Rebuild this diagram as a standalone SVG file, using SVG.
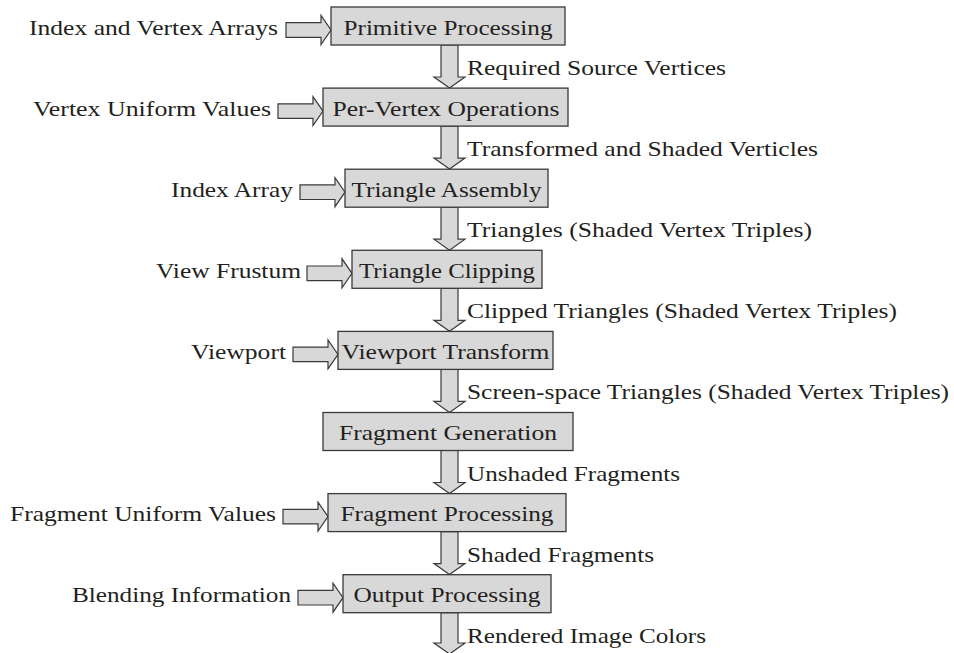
<svg xmlns="http://www.w3.org/2000/svg" xmlns:xlink="http://www.w3.org/1999/xlink" width="954" height="653" viewBox="0 0 954 653">
<style>
.box{fill:#d8d8d8;stroke:#3a3a3a;stroke-width:1.3}
.arr{fill:#d8d8d8;stroke:#3a3a3a;stroke-width:1.2;stroke-linejoin:miter}
text{font-family:"Liberation Serif","Times New Roman",serif;font-size:22px;fill:#231f20}
.c{text-anchor:middle}
</style>
<defs>
<path id="varr" d="M-8.5,0 V32 H-15.5 L0,43 L15.5,32 H8.5 V0 Z"/>
<path id="harr" d="M-45,-7.3 H-10 V-14.5 L0,0 L-10,14.5 V7.3 H-45 Z"/>
</defs>
<g id="connectors">
<use xlink:href="#varr" class="arr" x="449.5" y="45"/>
<use xlink:href="#varr" class="arr" x="449.5" y="126.1"/>
<use xlink:href="#varr" class="arr" x="449.5" y="207.2"/>
<use xlink:href="#varr" class="arr" x="449.5" y="288.3"/>
<use xlink:href="#varr" class="arr" x="449.5" y="369.4"/>
<use xlink:href="#varr" class="arr" x="449.5" y="450.5"/>
<use xlink:href="#varr" class="arr" x="449.5" y="531.6"/>
<path class="arr" d="M441,612.7 V643 H434 L449.5,654 L465,643 H458 V612.7 Z"/>
<use xlink:href="#harr" class="arr" x="331" y="30"/>
<use xlink:href="#harr" class="arr" x="323" y="111.1"/>
<use xlink:href="#harr" class="arr" x="345" y="192.2"/>
<use xlink:href="#harr" class="arr" x="352" y="273.3"/>
<use xlink:href="#harr" class="arr" x="338" y="354.4"/>
<use xlink:href="#harr" class="arr" x="328" y="516.6"/>
<use xlink:href="#harr" class="arr" x="343" y="597.7"/>
<text x="467" y="75" textLength="259" lengthAdjust="spacingAndGlyphs">Required Source Vertices</text>
<text x="467" y="156.1" textLength="351" lengthAdjust="spacingAndGlyphs">Transformed and Shaded Verticles</text>
<text x="467" y="237.2" textLength="345" lengthAdjust="spacingAndGlyphs">Triangles (Shaded Vertex Triples)</text>
<text x="467" y="318.3" textLength="430" lengthAdjust="spacingAndGlyphs">Clipped Triangles (Shaded Vertex Triples)</text>
<text x="467" y="399.4" textLength="482" lengthAdjust="spacingAndGlyphs">Screen-space Triangles (Shaded Vertex Triples)</text>
<text x="467" y="480.5" textLength="213" lengthAdjust="spacingAndGlyphs">Unshaded Fragments</text>
<text x="467" y="561.6" textLength="187" lengthAdjust="spacingAndGlyphs">Shaded Fragments</text>
<text x="467" y="642.7" textLength="239" lengthAdjust="spacingAndGlyphs">Rendered Image Colors</text>
</g>
<g id="in-index-vertex-arrays"><text x="29" y="34.5" textLength="249" lengthAdjust="spacingAndGlyphs">Index and Vertex Arrays</text></g>
<g id="in-vertex-uniform"><text x="33" y="115.6" textLength="238" lengthAdjust="spacingAndGlyphs">Vertex Uniform Values</text></g>
<g id="in-index-array"><text x="171" y="196.7" textLength="122" lengthAdjust="spacingAndGlyphs">Index Array</text></g>
<g id="in-view-frustum"><text x="156" y="277.8" textLength="145" lengthAdjust="spacingAndGlyphs">View Frustum</text></g>
<g id="in-viewport"><text x="191" y="358.9" textLength="95" lengthAdjust="spacingAndGlyphs">Viewport</text></g>
<g id="in-fragment-uniform"><text x="10" y="521.1" textLength="266" lengthAdjust="spacingAndGlyphs">Fragment Uniform Values</text></g>
<g id="in-blending"><text x="72" y="602.2" textLength="219" lengthAdjust="spacingAndGlyphs">Blending Information</text></g>
<g id="primitive-processing"><rect class="box" x="331" y="7" width="234" height="38"/><text class="c" x="448" y="34.5" textLength="209" lengthAdjust="spacingAndGlyphs">Primitive Processing</text></g>
<g id="per-vertex-operations"><rect class="box" x="323" y="88.1" width="245" height="38"/><text class="c" x="446" y="115.6" textLength="227" lengthAdjust="spacingAndGlyphs">Per-Vertex Operations</text></g>
<g id="triangle-assembly"><rect class="box" x="345" y="169.2" width="203" height="38"/><text class="c" x="446.5" y="196.7" textLength="190" lengthAdjust="spacingAndGlyphs">Triangle Assembly</text></g>
<g id="triangle-clipping"><rect class="box" x="352" y="250.3" width="190" height="38"/><text class="c" x="447" y="277.8" textLength="176" lengthAdjust="spacingAndGlyphs">Triangle Clipping</text></g>
<g id="viewport-transform"><rect class="box" x="338" y="331.4" width="215" height="38"/><text class="c" x="445.5" y="358.9" textLength="208" lengthAdjust="spacingAndGlyphs">Viewport Transform</text></g>
<g id="fragment-generation"><rect class="box" x="323" y="412.5" width="250" height="38"/><text class="c" x="448" y="440" textLength="218" lengthAdjust="spacingAndGlyphs">Fragment Generation</text></g>
<g id="fragment-processing"><rect class="box" x="328" y="493.6" width="238" height="38"/><text class="c" x="447" y="521.1" textLength="213" lengthAdjust="spacingAndGlyphs">Fragment Processing</text></g>
<g id="output-processing"><rect class="box" x="343" y="574.7" width="208" height="38"/><text class="c" x="447" y="602.2" textLength="187" lengthAdjust="spacingAndGlyphs">Output Processing</text></g>
</svg>
